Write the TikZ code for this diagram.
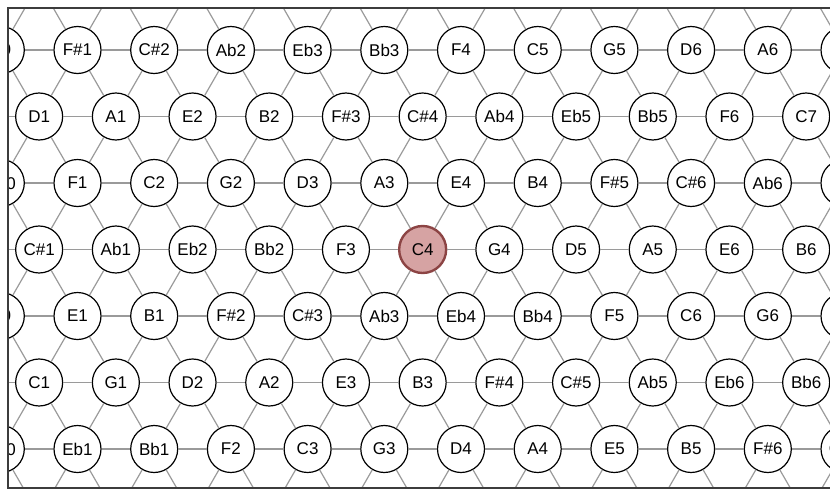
\documentclass[tikz,border=0pt]{standalone}
\usepackage{fontspec}
\setmainfont{Liberation Sans}
\definecolor{linkgray}{HTML}{9A9A9A}
\definecolor{framegray}{HTML}{3C3C3C}
\definecolor{rootfill}{HTML}{D6A3A3}
\definecolor{rootline}{HTML}{8C4444}
\newcommand\notename[1]{\ifcase#1 C\or C\#\or D\or Eb\or E\or F\or F\#\or G\or Ab\or A\or Bb\or B\fi}
\begin{document}
\begin{tikzpicture}[x=1pt,y=-1pt,
note/.style={draw,circle,fill=white,line width=1.2pt,minimum size=47pt,inner sep=0pt,font=\fontsize{17}{19}\selectfont},
root/.style={note,fill=rootfill,draw=rootline,line width=2.4pt},
link/.style={draw=linkgray,line width=1.2pt}]
\useasboundingbox (0,0) rectangle (830,490);
\begin{scope}
\clip (8,8) rectangle (850,488);
% notes of the lattice (those off the frame stay without text)
\foreach \r in {-1,...,7}{
  \pgfmathtruncatemacro\rp{mod(\r+2,2)}
  \foreach \k in {-2,...,13}{
    \pgfmathtruncatemacro\h{2*\k+\rp}
    \pgfmathtruncatemacro\p{(7*\h-\r+22)/2+120}
    \pgfmathtruncatemacro\pc{mod(\p,12)}
    \pgfmathtruncatemacro\oct{floor(\p/12)-10}
    \def\sty{note}
    \ifnum\p=168 \def\sty{root}\fi
    \def\txt{\notename{\pc}\oct}
    \ifnum\r<0 \def\txt{}\fi
    \ifnum\r>6 \def\txt{}\fi
    \ifnum\h<0 \def\txt{}\fi
    \ifnum\h>22 \def\txt{}\fi
    \node[\sty] (n\h-\r) at ({0.8+38.35*\h},{50+66.5*\r}) {\txt};
  }}
% fifths, major and minor thirds
\foreach \r in {-1,...,7}{
  \pgfmathtruncatemacro\rp{mod(\r+2,2)}
  \pgfmathtruncatemacro\rn{\r+1}
  \foreach \k in {-1,...,12}{
    \pgfmathtruncatemacro\h{2*\k+\rp}
    \pgfmathtruncatemacro\hr{\h+2}
    \pgfmathtruncatemacro\hd{\h+1}
    \pgfmathtruncatemacro\hl{\h-1}
    \draw[link] (n\h-\r) -- (n\hr-\r);
    \ifnum\r<7
      \draw[link] (n\h-\r) -- (n\hd-\rn);
      \draw[link] (n\h-\r) -- (n\hl-\rn);
    \fi
  }}
\end{scope}
\draw[framegray,line width=2.2pt] (8,8) rectangle (850,488);
\end{tikzpicture}
\end{document}
